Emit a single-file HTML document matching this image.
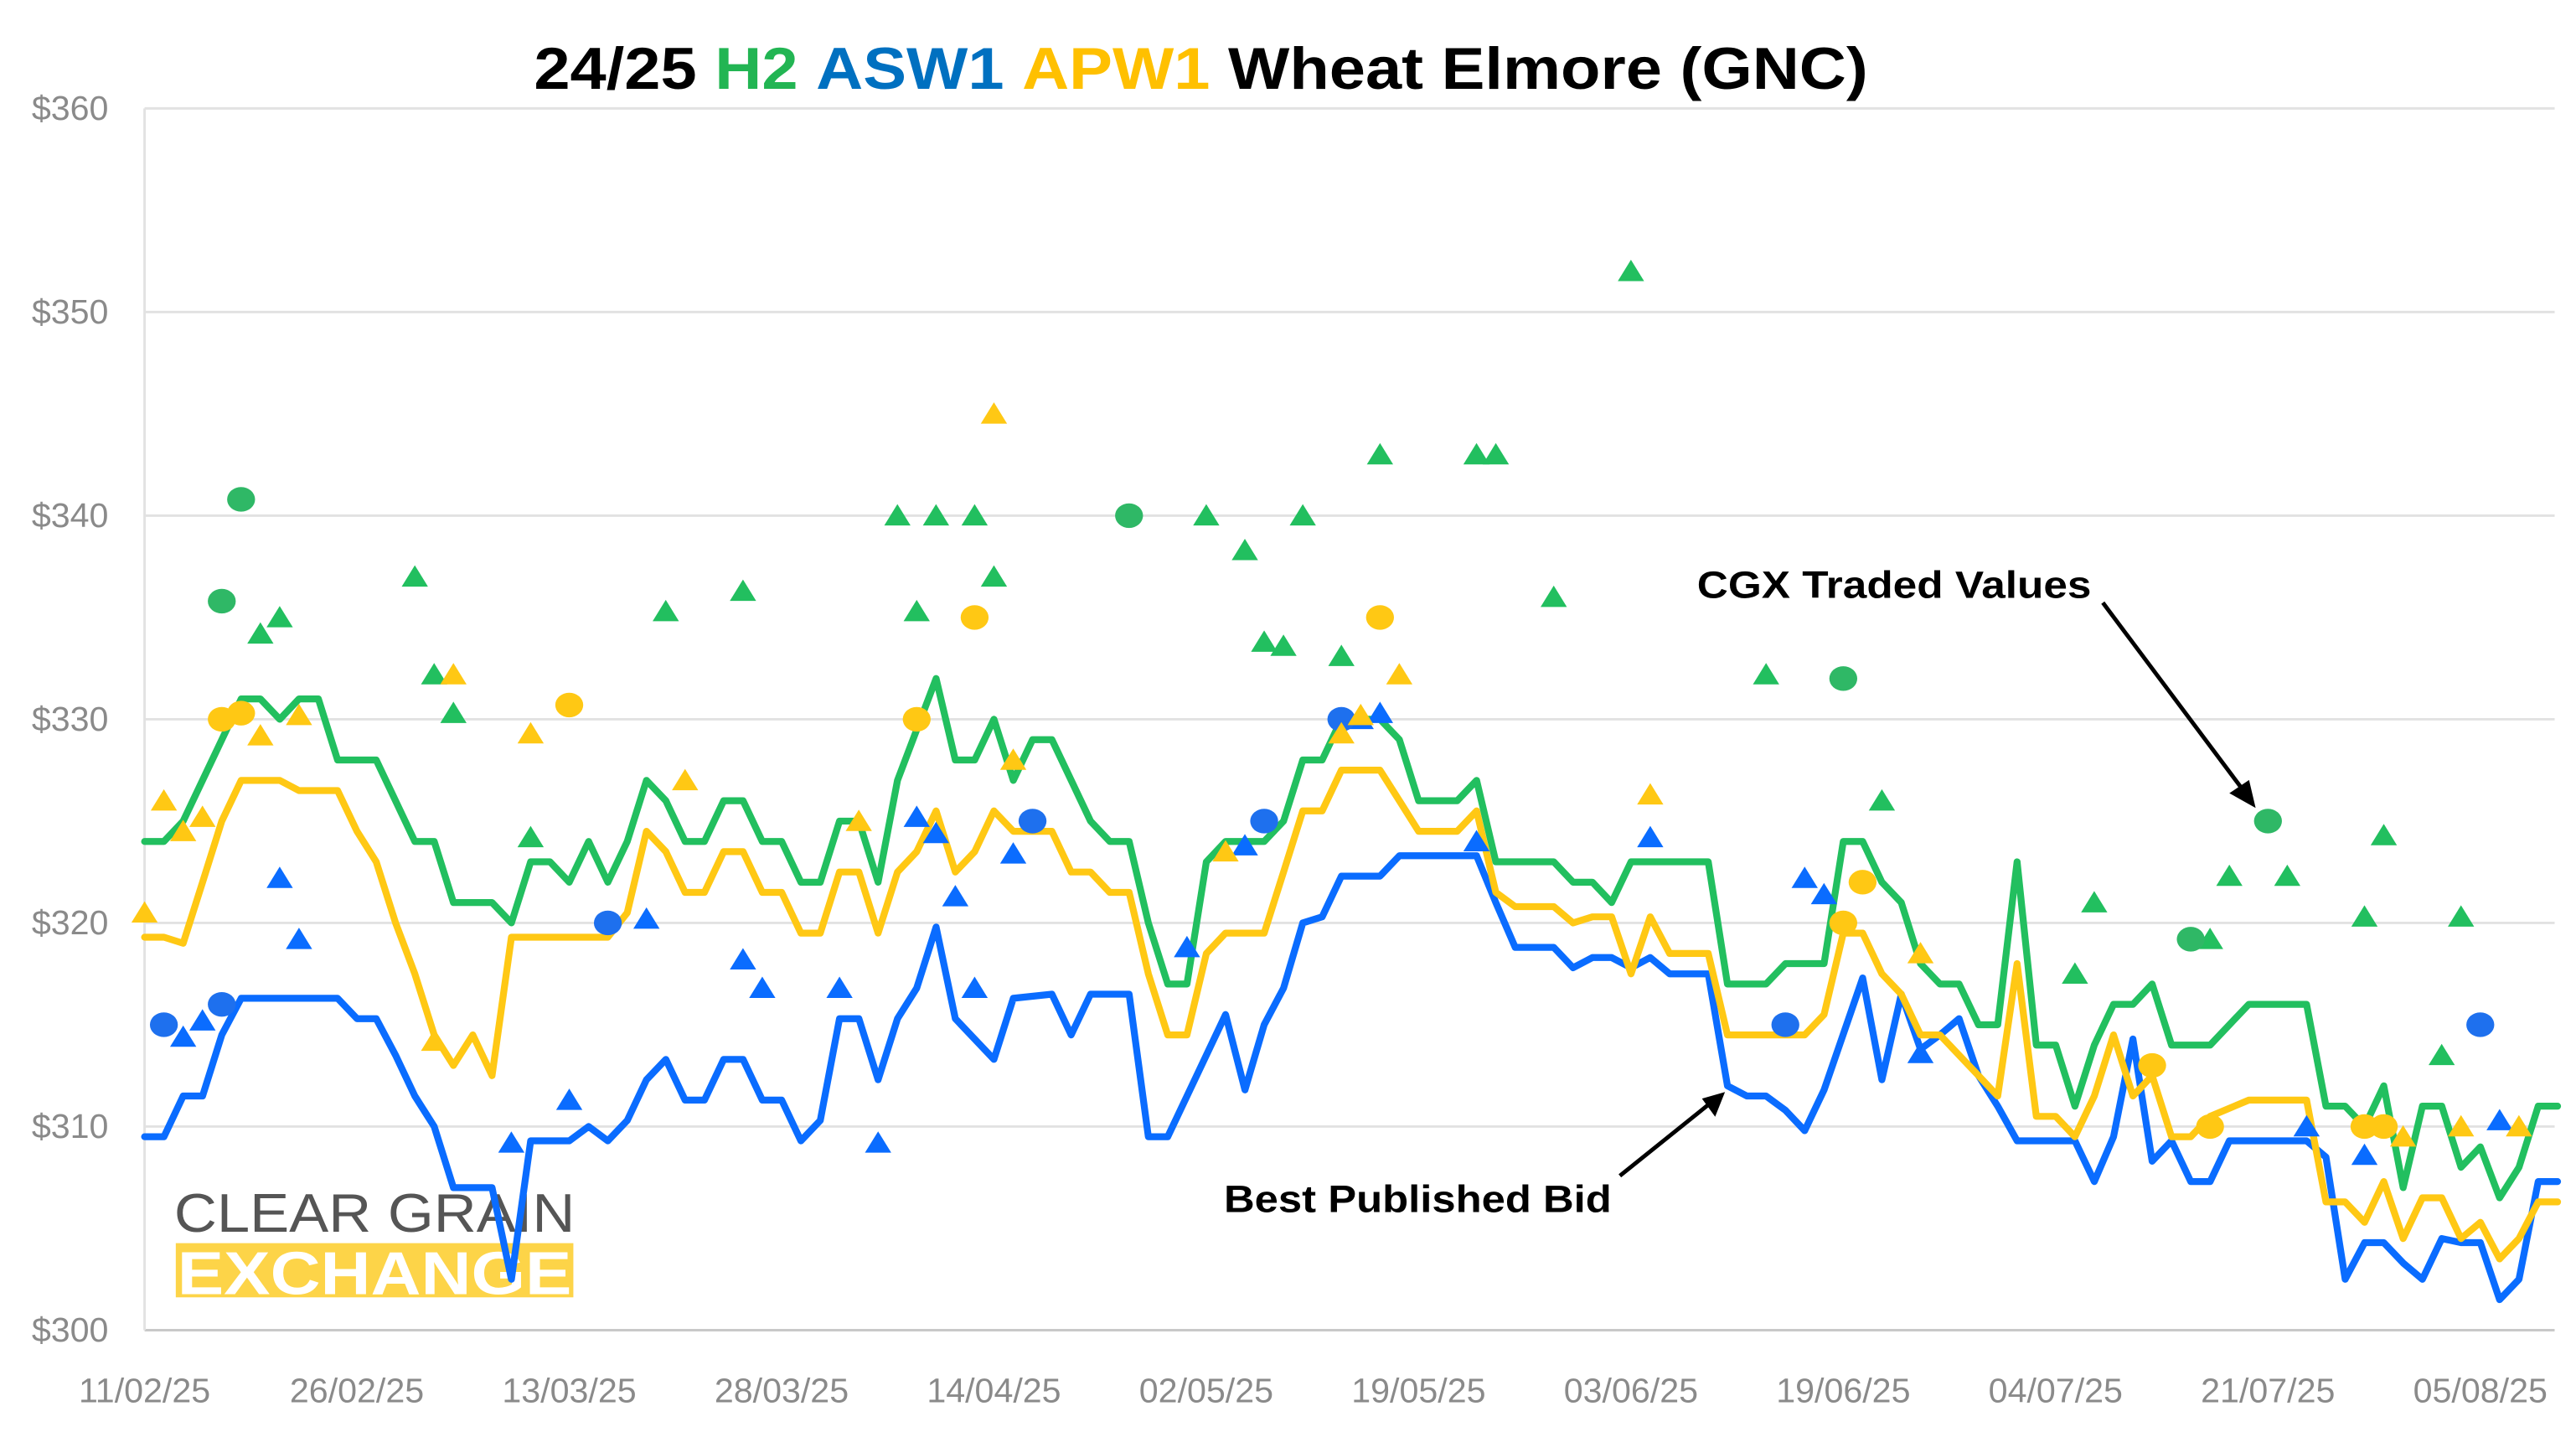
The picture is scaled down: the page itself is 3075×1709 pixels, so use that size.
<!DOCTYPE html>
<html><head><meta charset="utf-8"><style>
html,body{margin:0;padding:0;background:#fff}
svg{display:block;font-family:"Liberation Sans",Arial,sans-serif}
</style></head><body>
<svg id="chart" width="3075" height="1709" viewBox="0 0 1568 872" preserveAspectRatio="none" xmlns="http://www.w3.org/2000/svg">
<rect width="1568" height="872" fill="#fff"/>
<text x="325" y="54" textLength="812" lengthAdjust="spacingAndGlyphs" font-size="36" font-weight="bold" fill="#000">24/25 <tspan fill="#22B553">H2</tspan> <tspan fill="#0070C0">ASW1</tspan> <tspan fill="#FFC000">APW1</tspan> Wheat Elmore (GNC)</text>
<g id="grid"></g>
<g id="axes"></g>
<g id="logo">
<text x="106" y="750" textLength="244" lengthAdjust="spacingAndGlyphs" font-size="33" fill="#555">CLEAR GRAIN</text>
<rect x="107" y="757" width="242" height="33" fill="#FDD448"/>
<text x="108" y="788" textLength="240" lengthAdjust="spacingAndGlyphs" font-size="37" font-weight="bold" fill="#fff">EXCHANGE</text>
</g>
<g id="series"></g>
<g id="marks"></g>
<g>
<text x="1033" y="364" textLength="240" lengthAdjust="spacingAndGlyphs" font-size="23" font-weight="bold" fill="#000">CGX Traded Values</text>
<line x1="1280" y1="367" x2="1366" y2="482" stroke="#000" stroke-width="2.5"/>
<polygon points="1373,492 1357,483 1369,475" fill="#000"/>
<text x="745" y="738" textLength="236" lengthAdjust="spacingAndGlyphs" font-size="23" font-weight="bold" fill="#000">Best Published Bid</text>
<line x1="986" y1="716" x2="1042" y2="671" stroke="#000" stroke-width="2.5"/>
<polygon points="1050,665 1044,680 1036,669" fill="#000"/>
</g>
</svg>
<script>
// ---- data ----
const xTickLabels = ["11/02/25","26/02/25","13/03/25","28/03/25","14/04/25","02/05/25","19/05/25","03/06/25","19/06/25","04/07/25","21/07/25","05/08/25"];
const xTickIdx = [0,11,22,33,44,55,66,77,88,99,110,121];
const yTicks = [300,310,320,330,340,350,360];

const h2Idx = [0,1,2,5,6,7,8,9,10,12,14,15,16,18,19,20,21,22,23,24,25,26,27,28,29,30,31,32,33,34,35,36,37,38,39,41,42,43,44,45,46,47,49,50,51,52,53,54,55,56,58,59,60,61,62,64,65,66,68,69,70,73,74,75,76,77,81,82,84,85,87,88,89,90,91,92,93,94,95,96,97,98,99,100,101,102,103,104,105,107,109,112,113,114,115,116,117,118,119,120,121,122,123,124,125];
const h2Val = [324,324,325,331,331,330,331,331,328,328,324,324,321,321,320,323,323,322,324,322,324,327,326,324,324,326,326,324,324,322,322,325,325,322,327,332,328,328,330,327,329,329,325,324,324,320,317,317,323,324,324,325,328,328,330,330,329,326,326,327,323,323,322,322,321,323,323,317,317,318,318,324,324,322,321,318,317,317,315,315,323,314,314,311,314,316,316,317,314,314,316,316,311,311,310,312,307,311,311,308,309,306.5,308,311,311];

const apwIdx = [0,1,2,3,4,5,7,8,10,11,12,13,14,15,16,17,18,19,24,25,26,27,28,29,30,31,32,33,34,35,36,37,38,39,40,41,42,43,44,45,47,48,49,50,51,52,53,54,55,56,58,59,60,61,62,64,65,66,68,69,70,71,73,74,75,76,77,78,79,81,82,86,87,88,89,90,91,92,93,95,96,97,98,99,100,101,102,103,104,105,106,107,109,112,113,114,115,116,117,118,119,120,121,122,123,124,125];
const apwVal = [319.3,319.3,319,322,325,327,327,326.5,326.5,324.5,323,320,317.5,314.5,313,314.5,312.5,319.3,319.3,320.5,324.5,323.5,321.5,321.5,323.5,323.5,321.5,321.5,319.5,319.5,322.5,322.5,319.5,322.5,323.5,325.5,322.5,323.5,325.5,324.5,324.5,322.5,322.5,321.5,321.5,317.5,314.5,314.5,318.5,319.5,319.5,322.5,325.5,325.5,327.5,327.5,326,324.5,324.5,325.5,321.5,320.8,320.8,320,320.3,320.3,317.5,320.3,318.5,318.5,314.5,314.5,315.5,319.5,319.5,317.5,316.5,314.5,314.5,312.5,311.5,318,310.5,310.5,309.5,311.5,314.5,311.5,312.5,309.5,309.5,310.5,311.3,311.3,306.3,306.3,305.3,307.3,304.5,306.5,306.5,304.5,305.3,303.5,304.5,306.3,306.3];

const aswIdx = [0,1,2,3,4,5,10,11,12,13,14,15,16,18,19,20,22,23,24,25,26,27,28,29,30,31,32,33,34,35,36,37,38,39,40,41,42,44,45,47,48,49,51,52,53,56,57,58,59,60,61,62,64,65,69,70,71,73,74,75,76,77,78,79,81,82,83,84,85,86,87,89,90,91,92,93,94,95,96,97,100,101,102,103,104,105,106,107,108,112,113,114,115,116,117,118,119,120,121,122,123,124,125];
const aswVal = [309.5,309.5,311.5,311.5,314.5,316.3,316.3,315.3,315.3,313.5,311.5,310,307,307,302.5,309.3,309.3,310,309.3,310.3,312.3,313.3,311.3,311.3,313.3,313.3,311.3,311.3,309.3,310.3,315.3,315.3,312.3,315.3,316.8,319.8,315.3,313.3,316.3,316.5,314.5,316.5,316.5,309.5,309.5,315.5,311.8,315,316.8,320,320.3,322.3,322.3,323.3,323.3,321,318.8,318.8,317.8,318.3,318.3,317.8,318.3,317.5,317.5,312,311.5,311.5,310.8,309.8,311.8,317.3,312.3,316.5,313.8,314.5,315.3,312.5,311,309.3,309.3,307.3,309.5,314.3,308.3,309.3,307.3,307.3,309.3,309.3,308.5,302.5,304.3,304.3,303.3,302.5,304.5,304.3,304.3,301.5,302.5,307.3,307.3];

// traded values: triangles (T) and circles (C)
const h2TriIdx = [6,7,14,15,16,20,27,31,39,40,41,43,44,55,57,58,59,60,62,64,69,70,73,77,84,90,100,101,107,108,111,115,116,119,120];
const h2TriVal = [334.2,335,337,332.2,330.3,324.2,335.3,336.3,340,335.3,340,340,337,340,338.3,333.8,333.6,340,333.1,343,343,343,336,352,332.2,326,317.5,321,319.2,322.3,322.3,320.3,324.3,313.5,320.3];
const h2CirIdx = [4,5,51,88,106,110];
const h2CirVal = [335.8,340.8,340,332,319.2,325];
const apwTriIdx = [0,1,2,3,6,8,15,16,20,28,37,44,45,56,62,63,65,78,92,117,120,123];
const apwTriVal = [320.5,326,324.5,325.2,329.2,330.2,314.2,332.2,329.3,327,325,345,328,323.5,329.3,330.2,332.2,326.3,318.5,309.5,310,310];
const apwCirIdx = [4,5,22,40,43,64,88,89,104,107,115,116];
const apwCirVal = [330,330.3,330.7,330,335,335,320,322,313,310,310,310];
const aswTriIdx = [2,3,7,8,19,22,26,31,32,36,38,40,41,42,43,45,54,57,63,64,69,78,86,87,92,112,115,122];
const aswTriVal = [314.4,315.2,322.2,319.2,309.2,311.3,320.2,318.2,316.8,316.8,309.2,325.2,324.4,321.3,316.8,323.4,318.8,323.8,330,330.3,324,324.2,322.2,321.4,313.6,310,308.6,310.3];
const aswCirIdx = [1,4,24,46,58,62,85,121];
const aswCirVal = [315,316,320,325,325,330,315,315];

// ---- scales ----
const X0 = 88, DX = 11.75;
const xS = i => X0 + i * DX;
const yS = v => 810 - (v - 300) * 12.4;
const NS = "http://www.w3.org/2000/svg";
function mk(tag, attrs, parent){ const e=document.createElementNS(NS,tag); for(const k in attrs) e.setAttribute(k,attrs[k]); parent.appendChild(e); return e; }

const grid = document.getElementById('grid');
const axes = document.getElementById('axes');
yTicks.forEach(v=>{
  const l = mk('line',{x1:X0,x2:1555,y1:yS(v),y2:yS(v),stroke:v===300?'#c8c8c8':'#e2e2e2','stroke-width':1.5},grid);
  
  
  const t = mk('text',{x:66,y:yS(v)+7,'text-anchor':'end','font-size':21,fill:'#8a8a8a'},axes);
  t.textContent = '$'+v;
  
  
});
const va = mk('line',{x1:X0,x2:X0,y1:yS(360),y2:yS(300),stroke:'#e2e2e2','stroke-width':1.5},grid);


xTickLabels.forEach((lab,k)=>{
  const t = mk('text',{x:xS(xTickIdx[k]),y:854,'text-anchor':'middle','font-size':21,fill:'#8a8a8a'},axes);
  t.textContent = lab;
  
  
});

const series = document.getElementById('series');
function drawLine(idx, val, color, name){
  const d = idx.map((i,k)=>(k?'L':'M')+xS(i).toFixed(1)+','+yS(val[k]).toFixed(1)).join(' ');
  const p = mk('path',{d:d,fill:'none',stroke:color,'stroke-width':4.2,'stroke-linejoin':'round','stroke-linecap':'round'},series);
  
  
}
drawLine(aswIdx, aswVal, '#0A6CFF', 'asw1-best-bid-line');
drawLine(apwIdx, apwVal, '#FFC814', 'apw1-best-bid-line');
drawLine(h2Idx, h2Val, '#22BF5F', 'h2-best-bid-line');

const marks = document.getElementById('marks');
function drawTri(idx,val,color,name){
  idx.forEach((i,k)=>{
    const x=xS(i), y=yS(val[k]);
    const p = mk('polygon',{points:`${x},${y-7} ${x-8},${y+6} ${x+8},${y+6}`,fill:color},marks);
    
    
  });
}
function drawCir(idx,val,color,name){
  idx.forEach((i,k)=>{
    const c = mk('ellipse',{cx:xS(i),cy:yS(val[k]),rx:8.5,ry:7.5,fill:color},marks);
    
    
  });
}
drawTri(h2TriIdx,h2TriVal,'#22BF5F','h2-traded-triangle');
drawCir(h2CirIdx,h2CirVal,'#2FB866','h2-traded-circle');
drawTri(aswTriIdx,aswTriVal,'#0A6CFF','asw1-traded-triangle');
drawCir(aswCirIdx,aswCirVal,'#1E70EE','asw1-traded-circle');
drawTri(apwTriIdx,apwTriVal,'#FFC814','apw1-traded-triangle');
drawCir(apwCirIdx,apwCirVal,'#FFC814','apw1-traded-circle');
</script>
</body></html>
